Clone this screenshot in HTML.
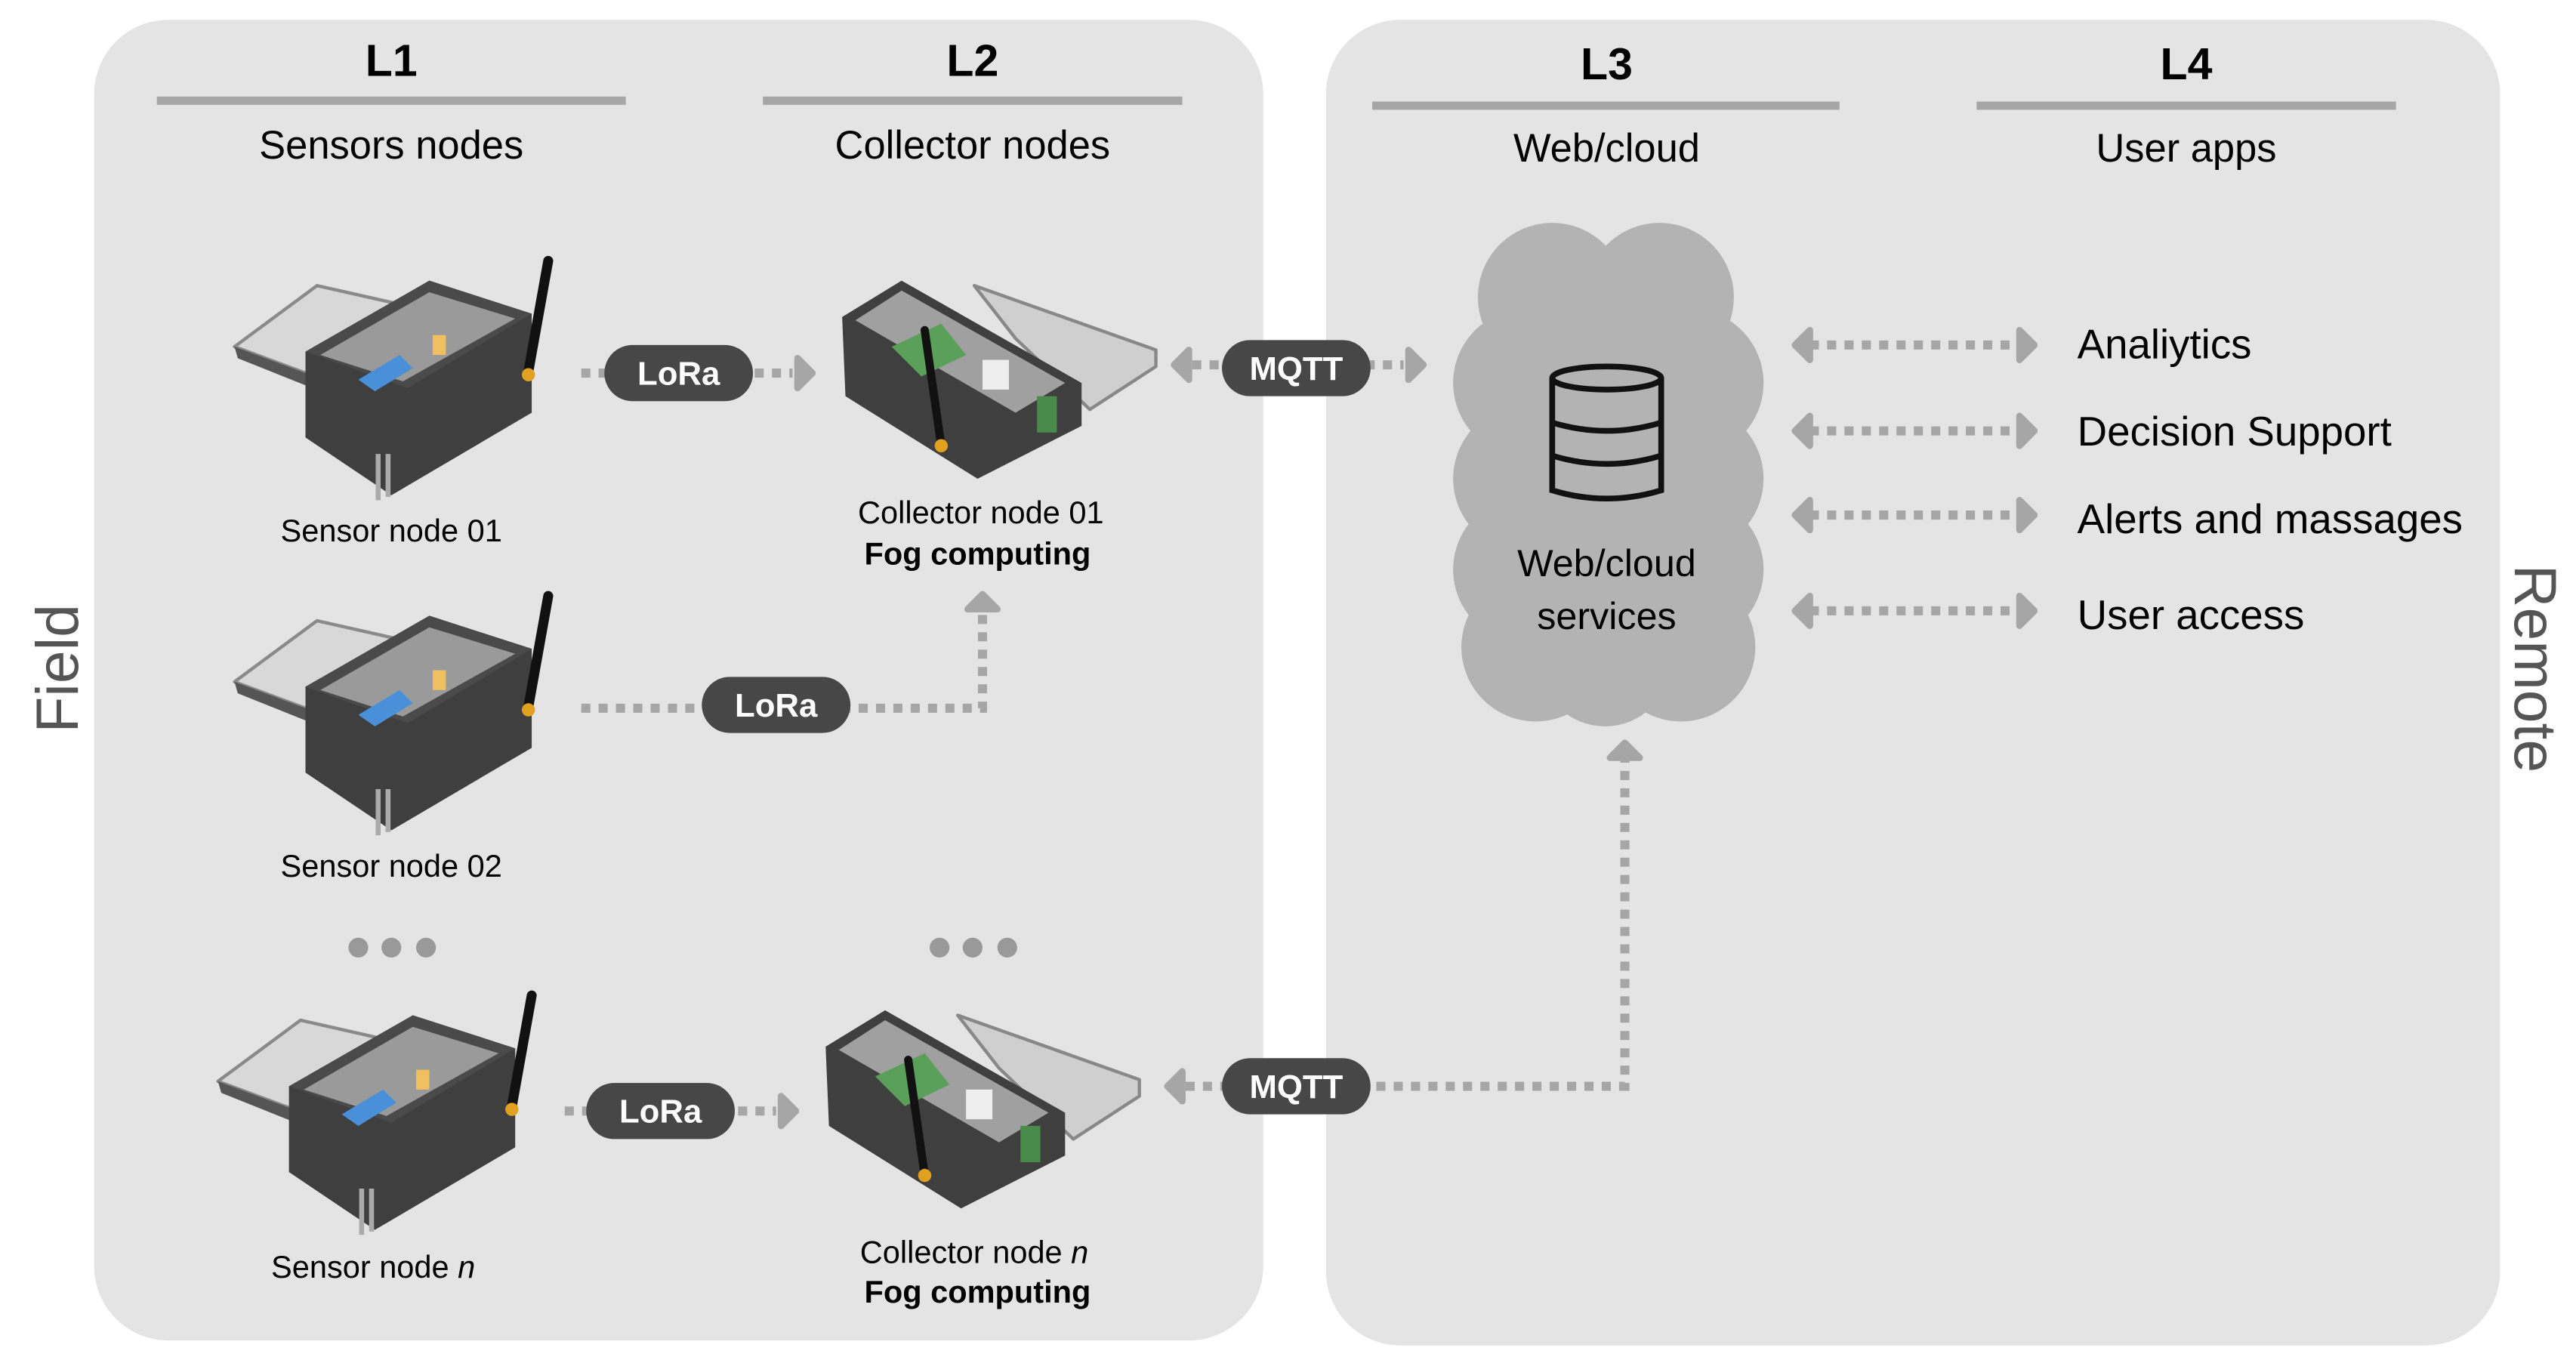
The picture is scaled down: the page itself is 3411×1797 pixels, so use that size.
<!DOCTYPE html>
<html><head><meta charset="utf-8"><style>
html,body{margin:0;padding:0;background:#fff;}
svg{display:block;}
text{font-family:"Liberation Sans",sans-serif;}
</style></head><body>
<svg width="3411" height="1797" viewBox="0 0 1560 822" preserveAspectRatio="none" xmlns="http://www.w3.org/2000/svg">
<defs>
<g id="sensor">
  <polygon points="0,55 50,18 112,32 62,78" fill="#d8d8d8" stroke="#8a8a8a" stroke-width="2" stroke-linejoin="round"/>
  <polygon points="0,55 62,78 62,86 2,62" fill="#555"/>
  <polygon points="43,58 118,15 180,35 180,95 95,145 43,110" fill="#3f3f3f"/>
  <polygon points="43,58 118,15 180,35 105,80" fill="#4a4a4a"/>
  <polygon points="52,60 118,22 170,38 102,76" fill="#9a9a9a"/>
  <polygon points="75,75 100,60 108,68 85,82" fill="#4a90d9"/>
  <rect x="120" y="48" width="8" height="12" fill="#f0c060"/>
  <line x1="178" y1="70" x2="190" y2="3" stroke="#111" stroke-width="6" stroke-linecap="round"/>
  <circle cx="178" cy="72" r="4" fill="#e0a020"/>
  <line x1="87" y1="120" x2="87" y2="148" stroke="#aaa" stroke-width="3"/>
  <line x1="93" y1="120" x2="93" y2="146" stroke="#aaa" stroke-width="3"/>
</g>
<g id="coll">
  <polygon points="80,3 190,42 190,52 150,78 105,35" fill="#cfcfcf" stroke="#888" stroke-width="2" stroke-linejoin="round"/>
  <polygon points="0,22 36,0 145,62 145,88 82,120 2,70" fill="#3f3f3f"/>
  <polygon points="8,24 36,6 135,62 105,80" fill="#a0a0a0"/>
  <polygon points="30,40 60,26 75,45 48,58" fill="#5aa05a"/>
  <rect x="85" y="48" width="16" height="18" fill="#eee"/>
  <rect x="118" y="70" width="12" height="22" fill="#4a8a4a"/>
  <line x1="60" y1="100" x2="50" y2="30" stroke="#111" stroke-width="5" stroke-linecap="round"/>
  <circle cx="60" cy="100" r="4" fill="#e0a020"/>
</g>
<polygon id="ahL" points="0,0 9,-9 9,9" fill="#a6a6a6" stroke="#a6a6a6" stroke-width="4" stroke-linejoin="round"/>
</defs>

<rect x="57" y="12" width="708" height="800" rx="45" fill="#e4e4e4"/>
<rect x="803" y="12" width="711" height="803" rx="45" fill="#e4e4e4"/>

<g fill="#000" text-anchor="middle">
<text x="237" y="46" font-size="27" font-weight="bold">L1</text>
<text x="589" y="46" font-size="27" font-weight="bold">L2</text>
<text x="973" y="48" font-size="27" font-weight="bold">L3</text>
<text x="1324" y="48" font-size="27" font-weight="bold">L4</text>
<text x="237" y="96" font-size="24">Sensors nodes</text>
<text x="589" y="96" font-size="24">Collector nodes</text>
<text x="973" y="98" font-size="24">Web/cloud</text>
<text x="1324" y="98" font-size="24">User apps</text>
</g>
<g stroke="#a6a6a6" stroke-width="5">
<line x1="95" y1="61" x2="379" y2="61"/>
<line x1="462" y1="61" x2="716" y2="61"/>
<line x1="831" y1="64" x2="1114" y2="64"/>
<line x1="1197" y1="64" x2="1451" y2="64"/>
</g>

<text transform="translate(47,405) rotate(-90)" text-anchor="middle" font-size="36" fill="#555">Field</text>
<text transform="translate(1523,405) rotate(90)" text-anchor="middle" font-size="36" fill="#555">Remote</text>

<use href="#sensor" x="142" y="155"/>
<use href="#sensor" x="142" y="358"/>
<use href="#sensor" x="132" y="600"/>
<use href="#coll" x="510" y="170"/>
<use href="#coll" x="500" y="612"/>

<g font-size="19" fill="#000" text-anchor="middle">
<text x="237" y="328">Sensor node 01</text>
<text x="237" y="531">Sensor node 02</text>
<text x="226" y="774">Sensor node <tspan font-style="italic">n</tspan></text>
<text x="594" y="317">Collector node 01</text>
<text x="592" y="342" font-weight="bold">Fog computing</text>
<text x="590" y="765">Collector node <tspan font-style="italic">n</tspan></text>
<text x="592" y="789" font-weight="bold">Fog computing</text>
</g>

<g fill="#999">
<circle cx="217" cy="574" r="6"/><circle cx="237" cy="574" r="6"/><circle cx="258" cy="574" r="6"/>
<circle cx="569" cy="574" r="6"/><circle cx="589" cy="574" r="6"/><circle cx="610" cy="574" r="6"/>
</g>

<g stroke="#a6a6a6" stroke-width="5.5" stroke-dasharray="5.5 5" fill="none">
<line x1="352" y1="226" x2="480" y2="226"/>
<polyline points="352,429 595,429 595,372"/>
<line x1="342" y1="673" x2="470" y2="673"/>
<line x1="722" y1="221" x2="850" y2="221"/>
<polyline points="718,658 984,658 984,460"/>
<line x1="1096" y1="209" x2="1222" y2="209"/>
<line x1="1096" y1="261" x2="1222" y2="261"/>
<line x1="1096" y1="312" x2="1222" y2="312"/>
<line x1="1096" y1="370" x2="1222" y2="370"/>
</g>
<g>
<use href="#ahL" transform="translate(492,226) rotate(180)"/>
<use href="#ahL" transform="translate(595,360) rotate(90)"/>
<use href="#ahL" transform="translate(482,673) rotate(180)"/>
<use href="#ahL" transform="translate(711,221)"/>
<use href="#ahL" transform="translate(862,221) rotate(180)"/>
<use href="#ahL" transform="translate(707,658)"/>
<use href="#ahL" transform="translate(984,450) rotate(90)"/>
<use href="#ahL" transform="translate(1087,209)"/>
<use href="#ahL" transform="translate(1087,261)"/>
<use href="#ahL" transform="translate(1087,312)"/>
<use href="#ahL" transform="translate(1087,370)"/>
<use href="#ahL" transform="translate(1232,209) rotate(180)"/>
<use href="#ahL" transform="translate(1232,261) rotate(180)"/>
<use href="#ahL" transform="translate(1232,312) rotate(180)"/>
<use href="#ahL" transform="translate(1232,370) rotate(180)"/>
</g>

<g fill="#474747">
<rect x="366" y="209" width="90" height="34" rx="17"/>
<rect x="425" y="410" width="90" height="34" rx="17"/>
<rect x="355" y="656" width="90" height="34" rx="17"/>
<rect x="740" y="206" width="90" height="34" rx="17"/>
<rect x="740" y="641" width="90" height="34" rx="17"/>
</g>
<g fill="#fff" font-size="20" font-weight="bold" text-anchor="middle">
<text x="411" y="233">LoRa</text>
<text x="470" y="434">LoRa</text>
<text x="400" y="680">LoRa</text>
<text x="785" y="230">MQTT</text>
<text x="785" y="665">MQTT</text>
</g>

<g fill="#b3b3b3">
<circle cx="940" cy="180" r="45"/><circle cx="1005" cy="180" r="45"/>
<circle cx="925" cy="232" r="45"/><circle cx="1023" cy="232" r="45"/>
<circle cx="925" cy="290" r="45"/><circle cx="1023" cy="290" r="45"/>
<circle cx="925" cy="345" r="45"/><circle cx="1023" cy="345" r="45"/>
<circle cx="930" cy="392" r="45"/><circle cx="1018" cy="392" r="45"/>
<circle cx="972" cy="400" r="40"/>
<rect x="900" y="180" width="145" height="220"/>
</g>
<g fill="none" stroke="#111" stroke-width="3.5">
<ellipse cx="973" cy="229" rx="33" ry="7"/>
<path d="M940,229 V297 Q973,307 1006,297 V229"/>
<path d="M940,256 Q973,266 1006,256"/>
<path d="M940,276 Q973,286 1006,276"/>
</g>
<g font-size="23" fill="#000" text-anchor="middle">
<text x="973" y="349">Web/cloud</text>
<text x="973" y="381">services</text>
</g>

<g font-size="25" fill="#000">
<text x="1258" y="217">Analiytics</text>
<text x="1258" y="270">Decision Support</text>
<text x="1258" y="323">Alerts and massages</text>
<text x="1258" y="381">User access</text>
</g>
</svg>
</body></html>
